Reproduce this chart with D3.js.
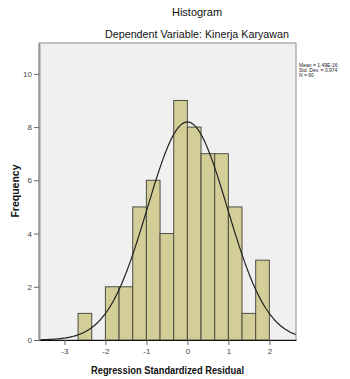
<!DOCTYPE html>
<html>
<head>
<meta charset="utf-8">
<script src="https://cdn.jsdelivr.net/npm/d3@7"></script>
<style>
  html, body { margin: 0; padding: 0; background: #fff; }
  svg { display: block; font-family: "Liberation Sans", Arial, sans-serif; }
</style>
</head>
<body>
<div id="chart"></div>
<script>
// bins of width 1/3, given by their left edge
const binStarts = [-8/3, -7/3, -2, -5/3, -4/3, -1, -2/3, -1/3, 0, 1/3, 2/3, 1, 4/3, 5/3];
const binCounts = [1, 0, 2, 2, 5, 6, 4, 9, 8, 7, 7, 5, 1, 3];
const binWidth = 1 / 3;

const xTicks = [-3, -2, -1, 0, 1, 2];
const yTicks = [0, 2, 4, 6, 8, 10];

// summary stats shown in the legend (fitted normal uses these)
const statMean = 1.49e-16;
const statSd = 0.974;
const statN = 60;
const statLines = ['Mean = 1.49E-16', 'Std. Dev. = 0.974', 'N = 60'];

const W = 350, H = 379;
const plot = { left: 39, top: 43, right: 296, bottom: 340 };

const svg = d3.select('#chart').append('svg')
    .attr('width', W).attr('height', H);

const x = d3.scaleLinear().domain([-3.62, 2.65]).range([plot.left, plot.right]);
const y = d3.scaleLinear().domain([0, 11.16]).range([plot.bottom, plot.top]);

// plot background
svg.append('rect')
    .attr('x', plot.left).attr('y', plot.top)
    .attr('width', plot.right - plot.left).attr('height', plot.bottom - plot.top)
    .attr('fill', '#f0f0f0')
    .attr('stroke', '#8c8c8c')
    .attr('stroke-width', 1);

// bars
svg.append('g').selectAll('rect')
    .data(binStarts.map((s, i) => ({ s, c: binCounts[i] })).filter(d => d.c > 0))
    .join('rect')
    .attr('x', d => x(d.s))
    .attr('y', d => y(d.c))
    .attr('width', d => x(d.s + binWidth) - x(d.s))
    .attr('height', d => y(0) - y(d.c))
    .attr('fill', '#d3ce97')
    .attr('stroke', '#4d4d42')
    .attr('stroke-width', 1);

// fitted normal curve
const pdf = v => Math.exp(-0.5 * ((v - statMean) / statSd) ** 2) / (statSd * Math.sqrt(2 * Math.PI));
const curveX = d3.range(x.domain()[0], x.domain()[1] + 0.001, 0.02);
svg.append('path')
    .datum(curveX)
    .attr('d', d3.line().x(v => x(v)).y(v => y(statN * binWidth * pdf(v))))
    .attr('fill', 'none')
    .attr('stroke', '#222')
    .attr('stroke-width', 1.2);

// axes
const yAxis = svg.append('g')
    .attr('transform', `translate(${plot.left},0)`)
    .call(d3.axisLeft(y).tickValues(yTicks).tickFormat(d3.format('d'))
        .tickSizeInner(5).tickSizeOuter(0).tickPadding(2));
yAxis.select('.domain').attr('stroke', '#999').attr('stroke-width', 2);

const xAxis = svg.append('g')
    .attr('transform', `translate(0,${plot.bottom})`)
    .call(d3.axisBottom(x).tickValues(xTicks).tickFormat(d => String(d))
        .tickSizeInner(5).tickSizeOuter(0).tickPadding(3));
xAxis.select('.domain').attr('stroke', '#111').attr('stroke-width', 1.2);

svg.selectAll('.tick line').attr('stroke', '#666');
svg.selectAll('.tick text').attr('fill', '#444').attr('font-size', '8px');

// titles
svg.append('text')
    .attr('x', 197).attr('y', 16)
    .attr('text-anchor', 'middle')
    .attr('font-size', '11px')
    .attr('fill', '#111')
    .text('Histogram');

svg.append('text')
    .attr('x', 197).attr('y', 38)
    .attr('text-anchor', 'middle')
    .attr('font-size', '11.5px')
    .attr('fill', '#111')
    .attr('textLength', 184).attr('lengthAdjust', 'spacingAndGlyphs')
    .text('Dependent Variable: Kinerja Karyawan');

svg.append('text')
    .attr('transform', 'translate(19,191) rotate(-90)')
    .attr('text-anchor', 'middle')
    .attr('font-size', '10.5px')
    .attr('font-weight', 'bold')
    .attr('fill', '#111')
    .text('Frequency');

svg.append('text')
    .attr('x', 167.5).attr('y', 374)
    .attr('text-anchor', 'middle')
    .attr('font-size', '10.5px')
    .attr('font-weight', 'bold')
    .attr('fill', '#111')
    .attr('textLength', 153).attr('lengthAdjust', 'spacingAndGlyphs')
    .text('Regression Standardized Residual');

// legend
const legend = svg.append('g').attr('transform', 'translate(299,67)');
statLines.forEach((t, i) => {
    legend.append('text')
        .attr('x', 0).attr('y', i * 5)
        .attr('font-size', '5px')
        .attr('fill', '#222')
        .text(t);
});
</script>
</body>
</html>
